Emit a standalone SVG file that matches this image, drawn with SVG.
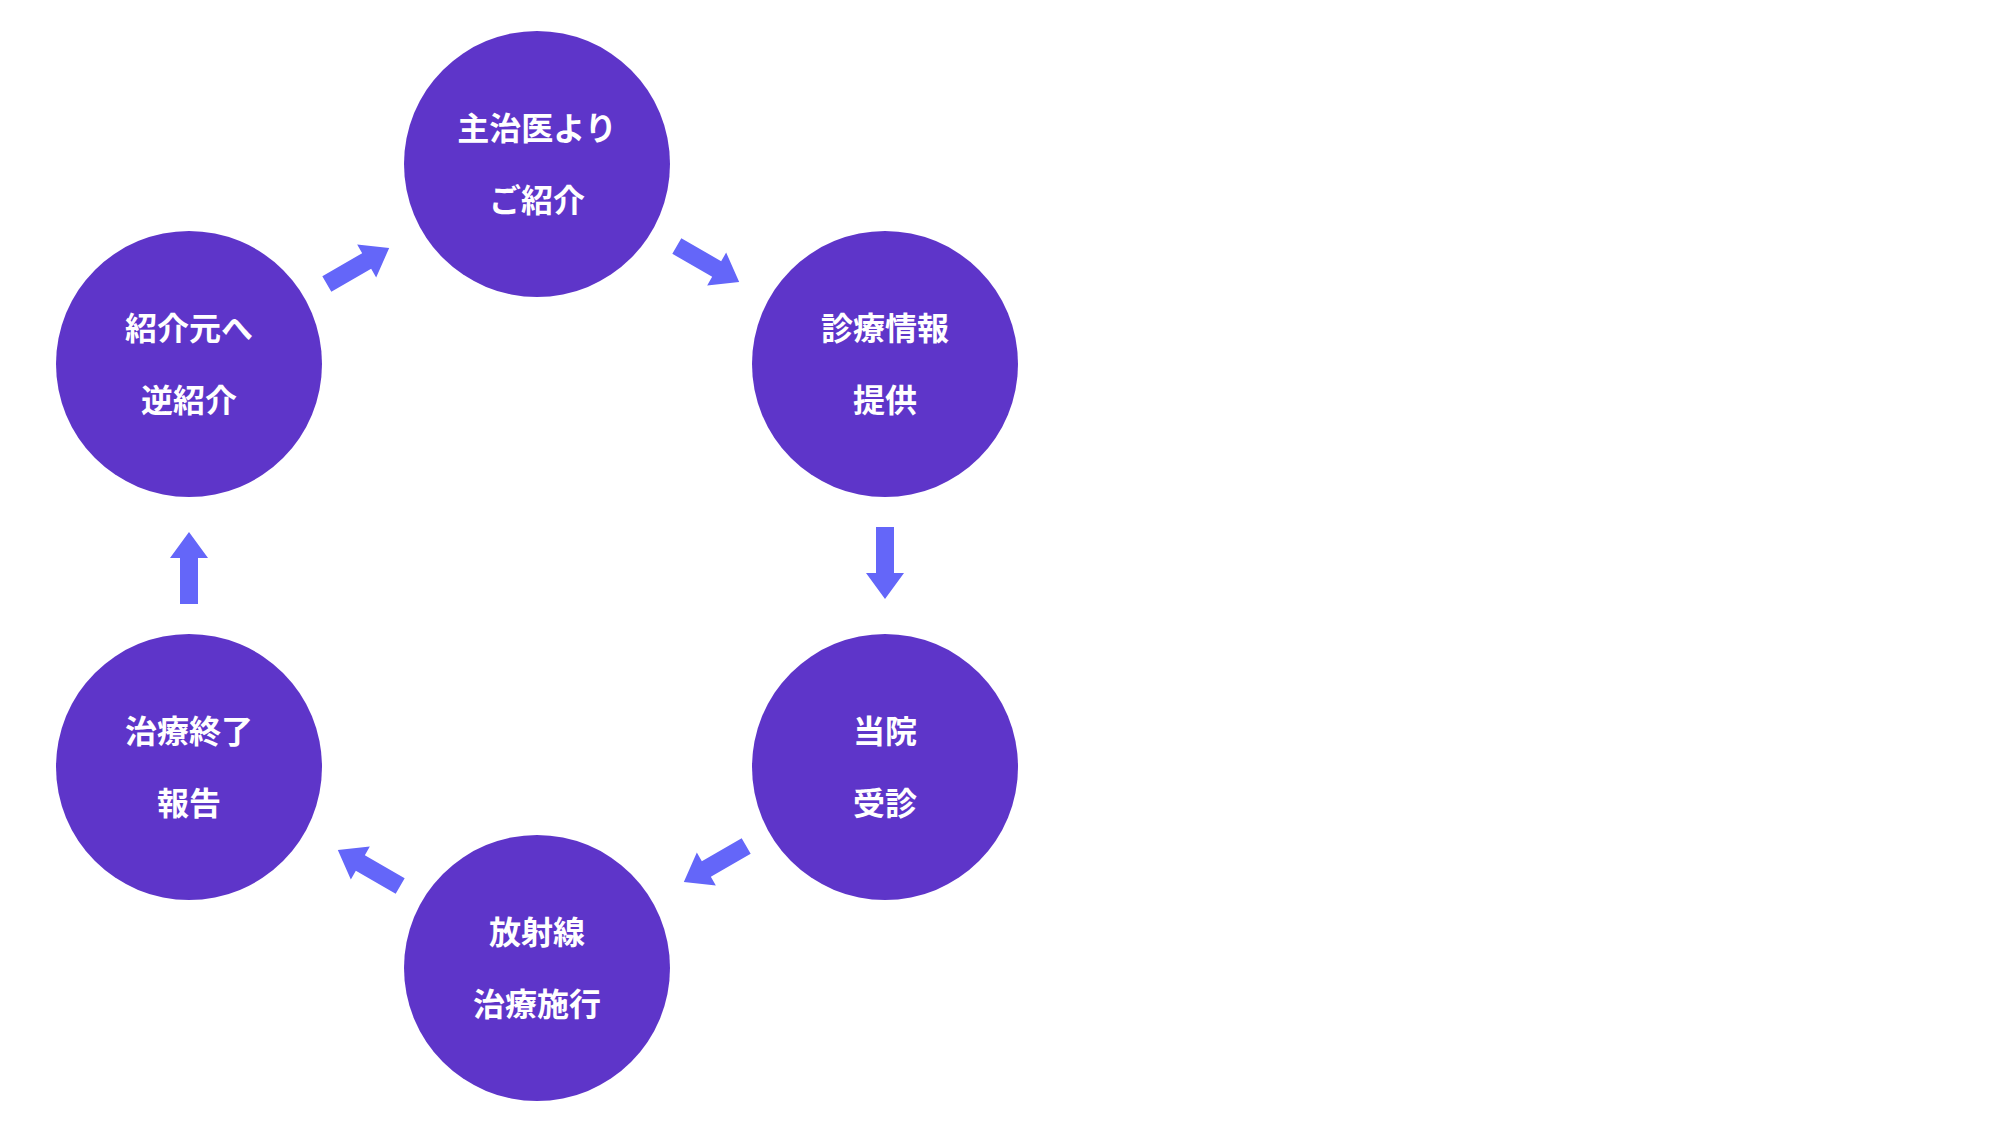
<svg xmlns="http://www.w3.org/2000/svg" width="2000" height="1125" viewBox="0 0 2000 1125">
<style>
.c{fill:#5E35C9}
.t{fill:#fff;font-family:"Noto Sans CJK JP","Noto Sans",sans-serif;font-weight:bold;font-size:32px;text-anchor:middle;dominant-baseline:central}
.a{fill:#6466F9}
</style>
<defs><path id="ar" d="M-36,-9 H10 V-19 L36,0 L10,19 V9 H-36 Z"/></defs>
<rect width="2000" height="1125" fill="#fff"/>
<g id="connectors">
<use href="#ar" class="a" transform="translate(708,264) rotate(30)"/>
<use href="#ar" class="a" transform="translate(885,563) rotate(90)"/>
<use href="#ar" class="a" transform="translate(715,864) rotate(150)"/>
<use href="#ar" class="a" transform="translate(369,868) rotate(210)"/>
<use href="#ar" class="a" transform="translate(189,568) rotate(270)"/>
<use href="#ar" class="a" transform="translate(358,266) rotate(330)"/>
</g>
<g id="n1"><circle class="c" cx="537" cy="164" r="133"/><text class="t" x="537" y="126">主治医より</text><text class="t" x="537" y="198">ご紹介</text></g>
<g id="n2"><circle class="c" cx="885" cy="364" r="133"/><text class="t" x="885" y="326">診療情報</text><text class="t" x="885" y="398">提供</text></g>
<g id="n3"><circle class="c" cx="885" cy="767" r="133"/><text class="t" x="885" y="729">当院</text><text class="t" x="885" y="801">受診</text></g>
<g id="n4"><circle class="c" cx="537" cy="968" r="133"/><text class="t" x="537" y="930">放射線</text><text class="t" x="537" y="1002">治療施行</text></g>
<g id="n5"><circle class="c" cx="189" cy="767" r="133"/><text class="t" x="189" y="729">治療終了</text><text class="t" x="189" y="801">報告</text></g>
<g id="n6"><circle class="c" cx="189" cy="364" r="133"/><text class="t" x="189" y="326">紹介元へ</text><text class="t" x="189" y="398">逆紹介</text></g>
</svg>
